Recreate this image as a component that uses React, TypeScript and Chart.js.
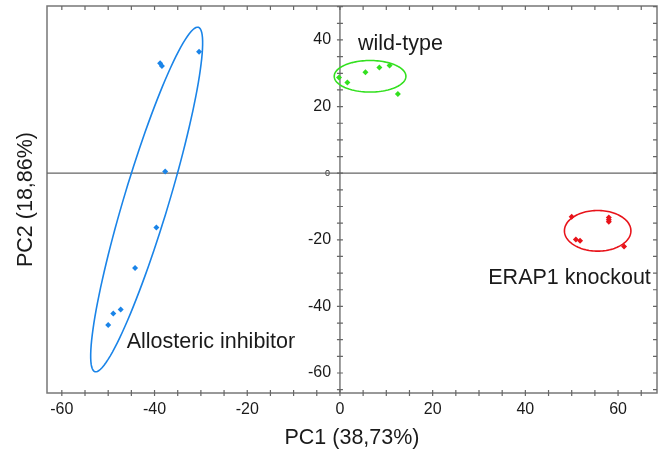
import React, { useEffect, useRef } from 'react';
import { Chart, registerables } from 'chart.js';
Chart.register(...registerables);

// ---- data ----
const blueX = [-30.4, -38.8, -38.4, -37.7, -39.6, -44.2, -47.3, -48.9, -50.0];
const blueY = [36.5, 33.0, 32.2, 0.5, -16.3, -28.5, -40.9, -42.1, -45.6];
const greenX = [-0.2, 1.6, 5.5, 8.5, 10.7, 12.5];
const greenY = [28.7, 27.2, 30.3, 31.7, 32.3, 23.8];
const redX = [50.0, 58.0, 58.0, 58.0, 50.9, 51.8, 61.3];
const redY = [-13.1, -13.3, -14.0, -14.6, -19.9, -20.3, -22.0];

const groupNames = ['Allosteric inhibitor', 'wild-type', 'ERAP1 knockout'];
const labelX = [-46.0, 3.9, 32.0];
const labelY = [-50.8, 38.9, -31.4];

// confidence ellipses: center, first half-axis vector, second half-axis vector (data units)
const ellipseCenter = [[-41.7, -7.9], [6.5, 29.1], [55.6, -17.3]];
const ellipseAxisA = [[11.16, 51.7], [7.73, 0], [7.17, 0]];
const ellipseAxisB = [[4.62, -1.92], [0, 4.74], [0, 6.1]];

const xTicks = [-60, -40, -20, 0, 20, 40, 60];
const yTicks = [-60, -40, -20, 0, 20, 40];
const xMin = -63.2, xMax = 68.4, yMin = -66, yMax = 50.2;
const minorStep = 5;

const COLORS = ['#1a84e8', '#33e01f', '#e8131a'];
const FONT = 'Arial, "Liberation Sans", sans-serif';

const toPts = (xs: number[], ys: number[]) => xs.map((x, i) => ({ x, y: ys[i] }));

const decorPlugin = {
  id: 'decor',
  beforeDatasetsDraw(chart: any) {
    const { ctx, chartArea: ca, scales } = chart;
    const sx = scales.x, sy = scales.y;
    ctx.save();
    // frame
    ctx.strokeStyle = '#777';
    ctx.lineWidth = 1.5;
    ctx.strokeRect(ca.left, ca.top, ca.right - ca.left, ca.bottom - ca.top);
    // zero lines
    const x0 = sx.getPixelForValue(0), y0 = sy.getPixelForValue(0);
    ctx.strokeStyle = '#666';
    ctx.lineWidth = 1.3;
    ctx.beginPath();
    ctx.moveTo(ca.left, y0); ctx.lineTo(ca.right, y0);
    ctx.moveTo(x0, ca.top); ctx.lineTo(x0, ca.bottom);
    ctx.stroke();
    // tick marks
    ctx.strokeStyle = '#666';
    ctx.lineWidth = 1.2;
    ctx.beginPath();
    for (let v = Math.ceil(xMin / minorStep) * minorStep; v <= xMax; v += minorStep) {
      const px = sx.getPixelForValue(v);
      ctx.moveTo(px, ca.bottom - 3); ctx.lineTo(px, ca.bottom + 3);
      ctx.moveTo(px, ca.top); ctx.lineTo(px, ca.top + 4);
    }
    for (let v = Math.ceil(yMin / minorStep) * minorStep; v <= yMax; v += minorStep) {
      const py = sy.getPixelForValue(v);
      ctx.moveTo(x0 - 3, py); ctx.lineTo(x0 + 3, py);
      ctx.moveTo(ca.right, py); ctx.lineTo(ca.right - 4, py);
    }
    ctx.stroke();
    // ellipses
    ctx.lineWidth = 1.6;
    ellipseCenter.forEach((c, i) => {
      const a = ellipseAxisA[i], b = ellipseAxisB[i];
      ctx.strokeStyle = COLORS[i];
      ctx.beginPath();
      for (let k = 0; k <= 120; k++) {
        const t = (k / 120) * Math.PI * 2;
        const dx = c[0] + a[0] * Math.cos(t) + b[0] * Math.sin(t);
        const dy = c[1] + a[1] * Math.cos(t) + b[1] * Math.sin(t);
        const px = sx.getPixelForValue(dx), py = sy.getPixelForValue(dy);
        if (k === 0) ctx.moveTo(px, py); else ctx.lineTo(px, py);
      }
      ctx.closePath();
      ctx.stroke();
    });
    ctx.restore();
  },
  afterDraw(chart: any) {
    const { ctx, scales } = chart;
    ctx.save();
    ctx.fillStyle = '#1a1a1a';
    ctx.font = `21.5px ${FONT}`;
    ctx.textAlign = 'left';
    ctx.textBaseline = 'middle';
    groupNames.forEach((n, i) => {
      ctx.fillText(n, scales.x.getPixelForValue(labelX[i]), scales.y.getPixelForValue(labelY[i]));
    });
    ctx.restore();
  },
};

function zeroPad(scale: any) {
  scale.paddingLeft = 0; scale.paddingRight = 0; scale.paddingTop = 0; scale.paddingBottom = 0;
}

export default function App() {
  const ref = useRef<HTMLCanvasElement>(null);
  useEffect(() => {
    document.body.style.margin = '0';
    const chart = new Chart(ref.current!, {
      type: 'scatter',
      data: {
        datasets: [
          { label: groupNames[0], data: toPts(blueX, blueY), backgroundColor: COLORS[0], borderColor: COLORS[0] },
          { label: groupNames[1], data: toPts(greenX, greenY), backgroundColor: COLORS[1], borderColor: COLORS[1] },
          { label: groupNames[2], data: toPts(redX, redY), backgroundColor: COLORS[2], borderColor: COLORS[2] },
        ].map((d) => ({ ...d, pointStyle: 'rectRot', pointRadius: 3, borderWidth: 0 })),
      },
      options: {
        animation: false,
        responsive: true,
        maintainAspectRatio: false,
        layout: { padding: { top: 6, right: 6, left: 0, bottom: 0 } },
        plugins: { legend: { display: false }, tooltip: { enabled: false } },
        scales: {
          x: {
            type: 'linear', position: 'bottom', min: xMin, max: xMax,
            afterBuildTicks: (s: any) => { s.ticks = xTicks.map((v) => ({ value: v })); },
            afterFit: (s: any) => { s.height = 63; zeroPad(s); },
            grid: { display: false, drawTicks: false },
            border: { display: false },
            ticks: { padding: 7, color: '#1a1a1a', font: { size: 16, family: FONT }, maxRotation: 0, autoSkip: false },
            title: { display: true, text: 'PC1 (38,73%)', color: '#1a1a1a', font: { size: 21.5, family: FONT }, padding: { top: 0, bottom: 5 } },
          },
          yTitle: {
            type: 'linear', position: 'left', min: yMin, max: yMax,
            afterFit: (s: any) => { s.width = 47; zeroPad(s); },
            grid: { display: false, drawTicks: false },
            border: { display: false },
            ticks: { display: false },
            title: { display: true, text: 'PC2 (18,86%)', color: '#1a1a1a', font: { size: 21.5, family: FONT }, padding: { top: 13, bottom: 0 } },
          },
          y: {
            type: 'linear', position: { x: 0 } as any, min: yMin, max: yMax,
            afterBuildTicks: (s: any) => { s.ticks = yTicks.map((v) => ({ value: v })); },
            afterFit: (s: any) => { zeroPad(s); },
            grid: { display: false, drawTicks: false },
            border: { display: false },
            ticks: {
              color: '#1a1a1a', autoSkip: false,
              callback: (v: any) => (v === 0 ? '0    ' : String(v) + '  '),
              font: (c: any) => ({ size: c.tick && c.tick.value === 0 ? 9 : 16, family: FONT }),
            },
          },
        },
      } as any,
      plugins: [decorPlugin],
    });
    return () => chart.destroy();
  }, []);
  return (
    <div style={{ position: 'relative', width: 663, height: 456 }}>
      <canvas ref={ref} />
    </div>
  );
}
